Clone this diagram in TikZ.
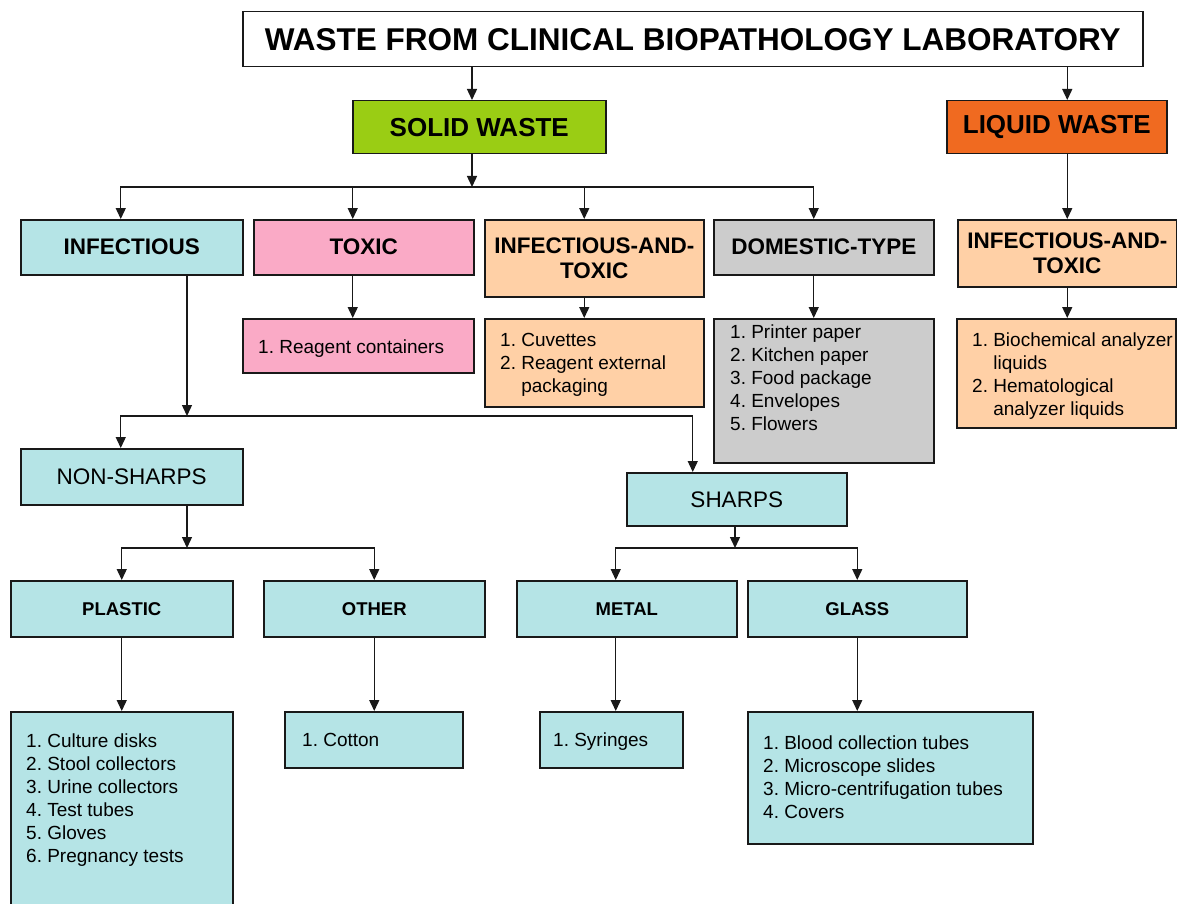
\documentclass[tikz,border=0pt]{standalone}
\usepackage{fontspec}
\setmainfont{Liberation Sans}
\usetikzlibrary{arrows.meta}
\definecolor{solidgreen}{RGB}{154,205,20}
\definecolor{liquidorange}{RGB}{240,106,32}
\definecolor{infcyan}{RGB}{181,228,230}
\definecolor{toxpink}{RGB}{250,170,198}
\definecolor{mixpeach}{RGB}{255,208,166}
\definecolor{domgrey}{RGB}{204,204,204}
\tikzset{
  box/.style={draw=black!90,line width=1.5pt,anchor=north west,inner sep=0pt,align=center},
  headbox/.style={box,font=\fontsize{22.5}{25.5}\selectfont\bfseries},
  kindbox/.style={box,fill=infcyan,font=\fontsize{22.5}{25.5}\selectfont},
  matbox/.style={box,fill=infcyan,minimum height=56pt,font=\fontsize{18.5}{22}\selectfont\bfseries},
  listtext/.style={anchor=north west,inner sep=0pt,font=\fontsize{19}{23}\selectfont},
  conn/.style={draw=black!90,line width=1.4pt,-{Triangle[length=11pt,width=10pt]}}
}
\begin{document}
\begin{tikzpicture}[x=1pt,y=-1pt]
\useasboundingbox (0,0) rectangle (1177,904);
\fill[white] (0,0) rectangle (1177,904);
\node[box,minimum width=900pt,minimum height=55pt,font=\fontsize{31.5}{36}\selectfont\bfseries] (title) at (242,11) {WASTE FROM CLINICAL BIOPATHOLOGY LABORATORY};
\node[box,fill=solidgreen,minimum width=253pt,minimum height=53pt,font=\fontsize{26}{30}\selectfont\bfseries] (solid) at (352,100) {SOLID WASTE};
\node[box,fill=liquidorange,minimum width=220pt,minimum height=53pt,font=\fontsize{26}{30}\selectfont\bfseries] (liquid) at (946,100) {LIQUID WASTE};
\node[headbox,fill=infcyan,minimum width=222pt,minimum height=55pt] (infectious) at (20,219) {INFECTIOUS};
\node[headbox,fill=toxpink,minimum width=220pt,minimum height=55pt] (toxic) at (253,219) {TOXIC};
\node[headbox,fill=mixpeach,minimum width=219pt,minimum height=77pt] (inftox) at (484,219) {INFECTIOUS-AND-\\TOXIC};
\node[headbox,fill=domgrey,minimum width=220pt,minimum height=55pt] (domestic) at (713,219) {DOMESTIC-TYPE};
\node[headbox,fill=mixpeach,minimum width=219pt,minimum height=67pt] (liqinftox) at (957,219) {INFECTIOUS-AND-\\TOXIC};
\node[box,fill=toxpink,minimum width=231pt,minimum height=54pt] (reagent) at (242,318) {};
\node[box,fill=mixpeach,minimum width=219pt,minimum height=88pt] (cuvettes) at (484,318) {};
\node[box,fill=domgrey,minimum width=220pt,minimum height=144pt] (domlist) at (713,318) {};
\node[box,fill=mixpeach,minimum width=219pt,minimum height=109pt] (liqlist) at (956,318) {};
\node[kindbox,minimum width=222pt,minimum height=56pt] (nonsharps) at (20,448) {NON-SHARPS};
\node[kindbox,minimum width=220pt,minimum height=53pt] (sharps) at (626,472) {SHARPS};
\node[matbox,minimum width=222pt] (plastic) at (10,580) {PLASTIC};
\node[matbox,minimum width=221pt] (other) at (263,580) {OTHER};
\node[matbox,minimum width=220pt] (metal) at (516,580) {METAL};
\node[matbox,minimum width=219pt] (glass) at (747,580) {GLASS};
\node[box,fill=infcyan,minimum width=222pt,minimum height=200pt] (plasticlist) at (10,711) {};
\node[box,fill=infcyan,minimum width=178pt,minimum height=56pt] (cotton) at (284,711) {};
\node[box,fill=infcyan,minimum width=143pt,minimum height=56pt] (syringes) at (539,711) {};
\node[box,fill=infcyan,minimum width=285pt,minimum height=132pt] (glasslist) at (747,711) {};
\node[listtext] (reagenttxt) at (258,337.5) {\begin{tabular}{@{}l@{~}l@{}}
                                1.&Reagent containers
                              \end{tabular}};
\node[listtext] (cuvettestxt) at (500,330.5) {\begin{tabular}{@{}l@{~}l@{}}
                                1.&Cuvettes\\
                                2.&Reagent external\\
                                  &packaging
                              \end{tabular}};
\node[listtext] (domtxt) at (730,322.5) {\begin{tabular}{@{}l@{~}l@{}}
                                1.&Printer paper\\
                                2.&Kitchen paper\\
                                3.&Food package\\
                                4.&Envelopes\\
                                5.&Flowers
                              \end{tabular}};
\node[listtext] (liqtxt) at (972,330.5) {\begin{tabular}{@{}l@{~}l@{}}
                                1.&Biochemical analyzer\\
                                  &liquids\\
                                2.&Hematological\\
                                  &analyzer liquids
                              \end{tabular}};
\node[listtext] (plastictxt) at (26,731.5) {\begin{tabular}{@{}l@{~}l@{}}
                                1.&Culture disks\\
                                2.&Stool collectors\\
                                3.&Urine collectors\\
                                4.&Test tubes\\
                                5.&Gloves\\
                                6.&Pregnancy tests
                              \end{tabular}};
\node[listtext] (cottontxt) at (302,730.5) {\begin{tabular}{@{}l@{~}l@{}}
                                1.&Cotton
                              \end{tabular}};
\node[listtext] (syringestxt) at (553,730.5) {\begin{tabular}{@{}l@{~}l@{}}
                                1.&Syringes
                              \end{tabular}};
\node[listtext] (glasstxt) at (763,733.5) {\begin{tabular}{@{}l@{~}l@{}}
                                1.&Blood collection tubes\\
                                2.&Microscope slides\\
                                3.&Micro-centrifugation tubes\\
                                4.&Covers
                              \end{tabular}};
\coordinate (solidfork) at (472,187);
\coordinate (infectfork) at (187,416);
\coordinate (nonsharpfork) at (187,548);
\coordinate (sharpfork) at (735,548);
\draw[conn] (title.south -| solidfork) -- (solid.north -| solidfork);
\draw[conn] (title.south -| liqinftox) -- (liquid.north -| liqinftox);
\draw[conn] (liquid.south -| liqinftox) -- (liqinftox.north);
\draw[conn] (liqinftox.south) -- (liqinftox.south |- liqlist.north);
\draw[conn] (solid.south -| solidfork) -- (solidfork);
\draw[conn] (solidfork) -| ([xshift=-11pt]infectious.north);
\draw[conn] (solidfork) -| ([xshift=-11pt]toxic.north);
\draw[conn] (solidfork) -| ([xshift=-10pt]inftox.north);
\draw[conn] (solidfork) -| ([xshift=-10pt]domestic.north);
\draw[conn] ([xshift=-11pt]toxic.south) -- ([xshift=-11pt]toxic.south |- reagent.north);
\draw[conn] ([xshift=-10pt]inftox.south) -- ([xshift=-10pt]inftox.south |- cuvettes.north);
\draw[conn] ([xshift=-10pt]domestic.south) -- ([xshift=-10pt]domestic.south |- domlist.north);
\draw[conn] (infectious.south -| infectfork) -- (infectfork);
\draw[conn] (infectfork) -| ([xshift=-11pt]nonsharps.north);
\draw[conn] (infectfork) -| ([xshift=-44pt]sharps.north);
\draw[conn] (nonsharps.south -| nonsharpfork) -- (nonsharpfork);
\draw[conn] (nonsharpfork) -| (plastic.north);
\draw[conn] (nonsharpfork) -| (other.north);
\draw[conn] (sharps.south -| sharpfork) -- (sharpfork);
\draw[conn] (sharpfork) -| ([xshift=-11pt]metal.north);
\draw[conn] (sharpfork) -| (glass.north);
\draw[conn] (plastic.south) -- (plastic.south |- plasticlist.north);
\draw[conn] (other.south) -- (other.south |- cotton.north);
\draw[conn] ([xshift=-11pt]metal.south) -- ([xshift=-11pt]metal.south |- syringes.north);
\draw[conn] (glass.south) -- (glass.south |- glasslist.north);
\end{tikzpicture}
\end{document}
